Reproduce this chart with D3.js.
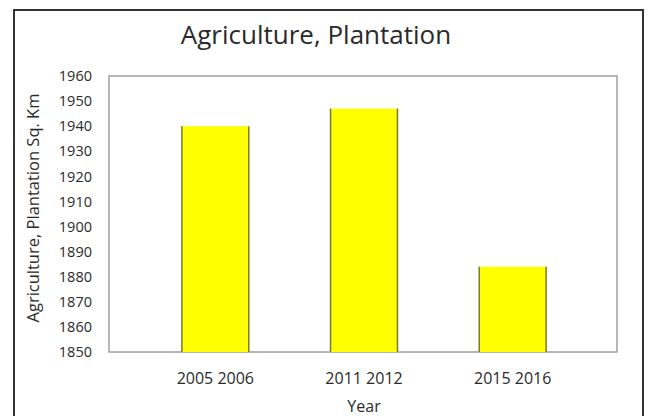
<!DOCTYPE html>
<html><head><meta charset="utf-8">
<script src="https://cdn.jsdelivr.net/npm/d3@7"></script>
<style>html,body{margin:0;padding:0;background:#fff}</style>
</head><body>
<script>
const categories = ["2005 2006", "2011 2012", "2015 2016"];
const values = [1940, 1947, 1884];
const yTicks = [1850, 1860, 1870, 1880, 1890, 1900, 1910, 1920, 1930, 1940, 1950, 1960];
const title = "Agriculture, Plantation";
const yTitle = "Agriculture, Plantation Sq. Km";
const xTitle = "Year";

const W = 649, H = 416;
const svg = d3.select("body").append("svg").attr("width", W).attr("height", H);
const font = "Open Sans, Noto Sans, sans-serif";

// outer chart border
svg.append("rect").attr("x", 14).attr("y", 10).attr("width", 629).attr("height", 420)
  .attr("fill", "#fff").attr("stroke", "#333").attr("stroke-width", 2);

const plot = {left: 109, top: 76, right: 617, bottom: 352};

const x = d3.scaleBand().domain(categories).range([141, 587]).paddingInner(0.55).paddingOuter(0.275);
const y = d3.scaleLinear().domain([1850, 1960]).range([plot.bottom, plot.top]);

// plot area box
svg.append("rect").attr("x", plot.left).attr("y", plot.top)
  .attr("width", plot.right - plot.left).attr("height", plot.bottom - plot.top)
  .attr("fill", "none").attr("stroke", "#a0a0a0").attr("stroke-width", 1.5);

// bars
svg.selectAll("rect.bar").data(values).join("rect").attr("class", "bar")
  .attr("x", (d, i) => x(categories[i]))
  .attr("y", d => y(d))
  .attr("width", x.bandwidth())
  .attr("height", d => y(1850) - y(d))
  .attr("fill", "#ffff00")
  .attr("stroke", "#7d7a2a").attr("stroke-width", 1.5)
  .attr("stroke-dasharray", d => { const w = x.bandwidth(), h = y(1850) - y(d); return `0,${w},${h},${w},${h}`; });

// y axis
const yAxis = d3.axisLeft(y).tickValues(yTicks).tickFormat(d3.format("d")).tickSize(0).tickPadding(0);
const yg = svg.append("g").attr("transform", `translate(92,0)`).call(yAxis);
yg.select(".domain").remove();
yg.selectAll("text").attr("font-family", font).attr("font-size", 14.5).attr("fill", "#2a2a2a");

// x axis
const xAxis = d3.axisBottom(x).tickSize(0).tickPadding(0);
const xg = svg.append("g").attr("transform", `translate(0,${plot.bottom + 20.5})`).call(xAxis);
xg.select(".domain").remove();
xg.selectAll("text").attr("font-family", font).attr("font-size", 16).attr("fill", "#2a2a2a");

// titles
svg.append("text").attr("x", 316).attr("y", 44).attr("text-anchor", "middle")
  .attr("font-family", font).attr("font-size", 26).attr("font-weight", 500).attr("fill", "#2a2a2a").text(title);
svg.append("text").attr("transform", "translate(39,208) rotate(-90)").attr("text-anchor", "middle")
  .attr("font-family", font).attr("font-size", 16.5).attr("fill", "#2a2a2a").text(yTitle);
svg.append("text").attr("x", 364).attr("y", 412).attr("text-anchor", "middle")
  .attr("font-family", font).attr("font-size", 16).attr("fill", "#2a2a2a").text(xTitle);
</script>
</body></html>
